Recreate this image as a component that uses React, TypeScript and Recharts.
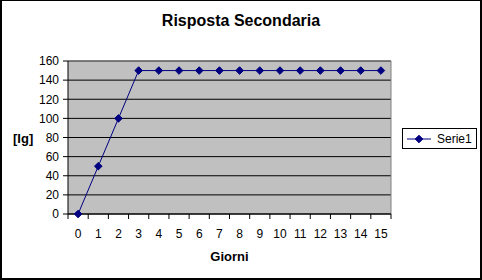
import { LineChart, Line, XAxis, YAxis, CartesianGrid, ReferenceLine } from 'recharts'

const days = [0, 1, 2, 3, 4, 5, 6, 7, 8, 9, 10, 11, 12, 13, 14, 15]
const serie1 = [0, 50, 100, 150, 150, 150, 150, 150, 150, 150, 150, 150, 150, 150, 150, 150]
const yTicks = [0, 20, 40, 60, 80, 100, 120, 140, 160]
const seriesName = 'Serie1'

const data = days.map((d, i) => ({ day: d, v: serie1[i] }))

const W = 482
const H = 280
const PLOT_L = 68
const PLOT_R = 391
const PLOT_B = 214
const BAND = (PLOT_R - PLOT_L) / days.length
const NAVY = '#000080'
const FONT = '"Liberation Sans", Arial, sans-serif'

function Diamond({ cx, cy }: { cx?: number; cy?: number }) {
  if (cx == null || cy == null) return null
  const r = 3.8
  return <polygon points={`${cx},${cy - r} ${cx + r},${cy} ${cx},${cy + r} ${cx - r},${cy}`} fill={NAVY} stroke={NAVY} />
}

// Excel puts category ticks between the categories, labels in the middle
function DayTick({ x, y, payload, index }: any) {
  const left = x - BAND / 2
  return (
    <g>
      <line x1={left} y1={PLOT_B} x2={left} y2={PLOT_B + 5} stroke="#000" />
      {index === days.length - 1 && <line x1={x + BAND / 2} y1={PLOT_B} x2={x + BAND / 2} y2={PLOT_B + 5} stroke="#000" />}
      <text x={x} y={y} dy="0.71em" textAnchor="middle" fontSize={12} fontFamily={FONT} fill="#000">
        {payload.value}
      </text>
    </g>
  )
}

function LegendBox() {
  return (
    <div style={{ position: 'absolute', left: 402, top: 128, border: '1px solid #000', background: '#fff', width: 75, height: 21, boxSizing: 'border-box', display: 'flex', alignItems: 'center' }}>
      <svg width={30} height={18}>
        <line x1={4} y1={9} x2={28} y2={9} stroke={NAVY} />
        <Diamond cx={16} cy={9} />
      </svg>
      <span style={{ fontFamily: FONT, fontSize: 12, marginLeft: 4 }}>{seriesName}</span>
    </div>
  )
}

export default function App() {
  return (
    <div style={{ position: 'absolute', left: 0, top: 0, width: W, height: H, background: '#fff' }}>
      <div style={{ position: 'absolute', left: 0, top: 13, width: W, textAlign: 'center', fontFamily: FONT, fontWeight: 'bold', fontSize: 16, lineHeight: '16px' }}>
        Risposta Secondaria
      </div>
      <div style={{ position: 'absolute', left: 13, top: 132, fontFamily: FONT, fontWeight: 'bold', fontSize: 13, lineHeight: '13px' }}>[Ig]</div>
      <div style={{ position: 'absolute', left: PLOT_L, width: PLOT_R - PLOT_L, top: 250, textAlign: 'center', fontFamily: FONT, fontWeight: 'bold', fontSize: 13, lineHeight: '13px' }}>
        Giorni
      </div>
      <LineChart width={W} height={H} data={data} margin={{ top: 61, right: W - PLOT_R, bottom: 36, left: 8 }} style={{ position: 'absolute', left: 0, top: 0 }}>
        <CartesianGrid vertical={false} stroke="#000" fill="#C0C0C0" fillOpacity={1} />
        <XAxis
          dataKey="day"
          type="number"
          domain={[-0.5, days.length - 0.5]}
          ticks={days}
          interval={0}
          height={30}
          axisLine={{ stroke: '#000' }}
          tickLine={false}
          tickSize={5}
          tickMargin={10}
          tick={<DayTick />}
        />
        <YAxis
          domain={[0, 160]}
          ticks={yTicks}
          interval={0}
          width={60}
          axisLine={{ stroke: '#000' }}
          tickLine={{ stroke: '#000' }}
          tickSize={5}
          tickMargin={4}
          tick={{ fill: '#000', fontSize: 12, fontFamily: FONT }}
        />
        <ReferenceLine y={160} stroke="#808080" />
        <ReferenceLine x={days.length - 0.5} stroke="#808080" />
        <Line dataKey="v" name={seriesName} stroke={NAVY} strokeWidth={1} dot={<Diamond />} activeDot={false} isAnimationActive={false} />
      </LineChart>
      <LegendBox />
      <div style={{ position: 'absolute', left: 0, top: 0, width: W, height: H, boxSizing: 'border-box', borderTop: '1px solid #000', borderLeft: '2px solid #000', borderRight: '2px solid #000', borderBottom: '2px solid #000', pointerEvents: 'none' }} />
    </div>
  )
}
